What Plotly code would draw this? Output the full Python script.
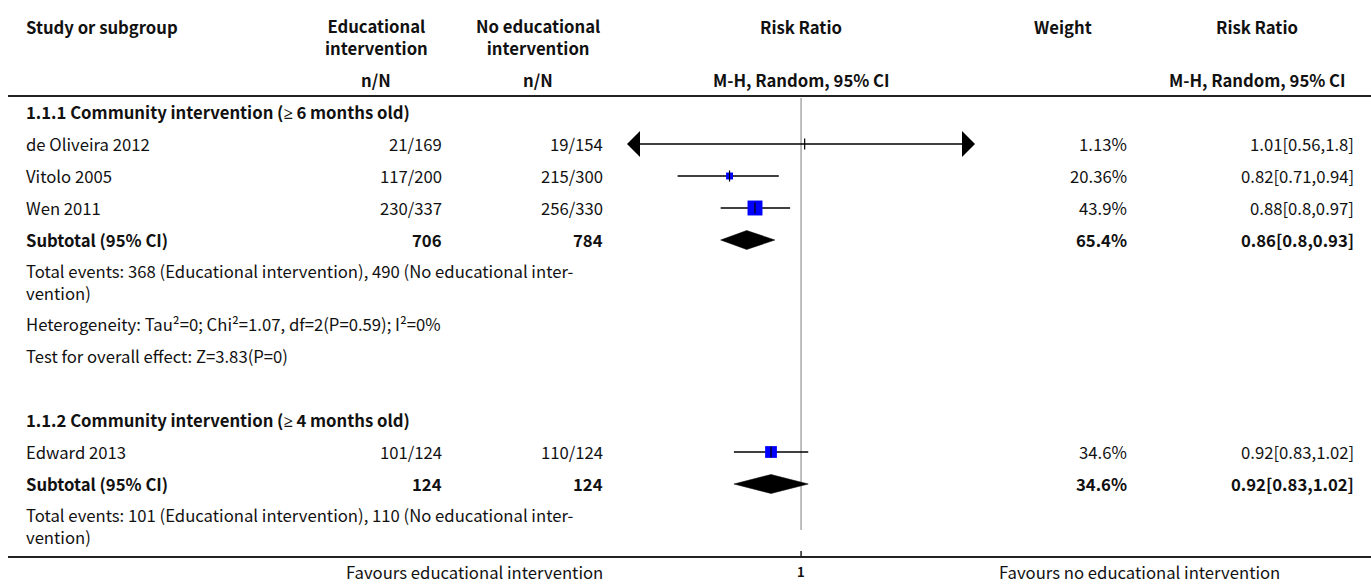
import math
import plotly.graph_objects as go

# ---- data -------------------------------------------------------------
studies = ["de Oliveira 2012", "Vitolo 2005", "Wen 2011", "Edward 2013"]
events_edu = [21, 117, 230, 101]
total_edu = [169, 200, 337, 124]
events_ctl = [19, 215, 256, 110]
total_ctl = [154, 300, 330, 124]
rr = [1.01, 0.82, 0.88, 0.92]
rr_lo = [0.56, 0.71, 0.80, 0.83]
rr_hi = [1.80, 0.94, 0.97, 1.02]
weights = [1.13, 20.36, 43.9, 34.6]

groups = ["1.1.1 Community intervention (≥ 6 months old)",
          "1.1.2 Community intervention (≥ 4 months old)"]
sub_n_edu = [706, 124]
sub_n_ctl = [784, 124]
sub_rr = [0.86, 0.92]
sub_lo = [0.80, 0.83]
sub_hi = [0.93, 1.02]
sub_weight = [65.4, 34.6]
sub_events_edu = [368, 101]
sub_events_ctl = [490, 110]
heterogeneity = ["Heterogeneity: Tau²=0; Chi²=1.07, df=2(P=0.59); I²=0%", None]
overall_effect = ["Test for overall effect: Z=3.83(P=0)", None]

axis_lo, axis_hi = 0.617, 1.62

# ---- layout constants (pixels) ----------------------------------------
W, H = 1371, 585
FONT = "Noto Sans CJK SC"
FS = 16.7
X_STUDY = 25
X_EDU_R, X_EDU_C = 443, 376
X_CTL_R, X_CTL_C = 604, 538
X_PLOT_L, X_PLOT_R = 627, 975
X_WT_R, X_WT_C = 1128, 1063
X_RR_R, X_RR_C = 1355, 1257
Y_HEAD_LINE = 96
Y_BOTTOM_LINE = 557

study_rows = [144, 176, 208, 452]
group_rows = [112, 420]
sub_rows = [240, 484]
events_rows = [272, 516]
het_rows = [324, None]
eff_rows = [356, None]

fig = go.Figure()
anns = []


def txt(x, y, s, anchor="left", bold=False, size=FS):
    # the CJK face draws a slanted ≥, so that glyph uses Noto Sans
    s = s.replace("≥", '<span style="font-family:Noto Sans">≥</span>')
    if bold:
        s = "<b>" + s.replace("<br>", "</b><br><b>") + "</b>"
    anns.append(dict(x=x, y=y, xref="x", yref="y", text=s, showarrow=False,
                     xanchor=anchor, yanchor="middle", align=anchor if anchor != "right" else "right",
                     borderpad=0, font=dict(family=FONT, size=size, color="#111")))


# header
txt(X_STUDY, 27, "Study or subgroup", bold=True)
txt(X_EDU_C, 37, "Educational<br>intervention", "center", True)
txt(X_EDU_C, 80, "n/N", "center", True)
txt(X_CTL_C, 37, "No educational<br>intervention", "center", True)
txt(X_CTL_C, 80, "n/N", "center", True)
txt(801, 27, "Risk Ratio", "center", True)
txt(801, 80, "M-H, Random, 95% CI", "center", True)
txt(X_WT_C, 27, "Weight", "center", True)
txt(X_RR_C, 27, "Risk Ratio", "center", True)
txt(X_RR_C, 80, "M-H, Random, 95% CI", "center", True)

# study rows
for i, s in enumerate(studies):
    y = study_rows[i]
    txt(X_STUDY, y, s)
    txt(X_EDU_R, y, f"{events_edu[i]}/{total_edu[i]}", "right")
    txt(X_CTL_R, y, f"{events_ctl[i]}/{total_ctl[i]}", "right")
    txt(X_WT_R, y, f"{weights[i]:g}%", "right")
    txt(X_RR_R, y, f"{rr[i]:g}[{rr_lo[i]:g},{rr_hi[i]:g}]", "right")

# subgroup headings, subtotals and statistics
for g, name in enumerate(groups):
    txt(X_STUDY, group_rows[g], name, bold=True)
    y = sub_rows[g]
    txt(X_STUDY, y, "Subtotal (95% CI)", bold=True)
    txt(X_EDU_R, y, str(sub_n_edu[g]), "right", True)
    txt(X_CTL_R, y, str(sub_n_ctl[g]), "right", True)
    txt(X_WT_R, y, f"{sub_weight[g]:g}%", "right", True)
    txt(X_RR_R, y, f"{sub_rr[g]:g}[{sub_lo[g]:g},{sub_hi[g]:g}]", "right", True)
    txt(X_STUDY, events_rows[g] + 10,
        f"Total events: {sub_events_edu[g]} (Educational intervention), "
        f"{sub_events_ctl[g]} (No educational inter-<br>vention)")
    if heterogeneity[g]:
        txt(X_STUDY, het_rows[g], heterogeneity[g])
    if overall_effect[g]:
        txt(X_STUDY, eff_rows[g], overall_effect[g])

# ---- forest plot on a log axis -----------------------------------------
px_per_dec = (X_PLOT_R - X_PLOT_L) / (math.log10(axis_hi) - math.log10(axis_lo))


def shift(v, px):
    """Move a value on the log axis by a number of pixels."""
    return v * 10 ** (px / px_per_dec)


ARROW = 13
for i in range(len(studies)):
    y = study_rows[i]
    lo = max(rr_lo[i], axis_lo)
    hi = min(rr_hi[i], axis_hi)
    x_lo = shift(lo, ARROW) if rr_lo[i] < axis_lo else lo
    x_hi = shift(hi, -ARROW) if rr_hi[i] > axis_hi else hi
    fig.add_trace(go.Scatter(x=[x_lo, x_hi], y=[y, y], xaxis="x2", yaxis="y", mode="lines",
                             line=dict(color="black", width=1.5), hoverinfo="skip"))
    if rr_lo[i] < axis_lo:
        b = shift(axis_lo, ARROW)
        fig.add_trace(go.Scatter(x=[axis_lo, b, b, axis_lo], y=[y, y - 13, y + 13, y],
                                 xaxis="x2", yaxis="y", mode="lines", fill="toself",
                                 fillcolor="black", line=dict(color="black", width=0),
                                 hoverinfo="skip"))
    if rr_hi[i] > axis_hi:
        b = shift(axis_hi, -ARROW)
        fig.add_trace(go.Scatter(x=[axis_hi, b, b, axis_hi], y=[y, y - 13, y + 13, y],
                                 xaxis="x2", yaxis="y", mode="lines", fill="toself",
                                 fillcolor="black", line=dict(color="black", width=0),
                                 hoverinfo="skip"))
    fig.add_trace(go.Scatter(x=[rr[i]], y=[y], xaxis="x2", yaxis="y", mode="markers",
                             marker=dict(symbol="square", size=weights[i] * 0.34, color="#0000ff",
                                         line=dict(width=0)), hoverinfo="skip"))
    fig.add_trace(go.Scatter(x=[rr[i]], y=[y], xaxis="x2", yaxis="y", mode="markers",
                             marker=dict(symbol="line-ns", size=8,
                                         line=dict(width=1.2, color="black")), hoverinfo="skip"))

for g in range(len(groups)):
    y = sub_rows[g]
    fig.add_trace(go.Scatter(x=[sub_lo[g], sub_rr[g], sub_hi[g], sub_rr[g], sub_lo[g]],
                             y=[y, y - 9.5, y, y + 9.5, y], xaxis="x2", yaxis="y",
                             mode="lines", fill="toself", fillcolor="black",
                             line=dict(color="black", width=0.5), hoverinfo="skip"))

shapes = [
    # line of no effect
    dict(type="line", xref="x2", yref="y", x0=1, x1=1, y0=Y_HEAD_LINE + 2, y1=530,
         line=dict(color="#a8a8a8", width=1.5), layer="below"),
    # table rules
    dict(type="line", xref="x", yref="y", x0=8, x1=W, y0=Y_HEAD_LINE, y1=Y_HEAD_LINE,
         line=dict(color="#222", width=2)),
    dict(type="line", xref="x", yref="y", x0=8, x1=W, y0=Y_BOTTOM_LINE, y1=Y_BOTTOM_LINE,
         line=dict(color="#222", width=2)),
    # tick at 1
    dict(type="line", xref="x2", yref="y", x0=1, x1=1, y0=Y_BOTTOM_LINE - 6, y1=Y_BOTTOM_LINE,
         line=dict(color="#222", width=1.5)),
]
anns.append(dict(x=0, y=571, xref="x2", yref="y", text="<b>1</b>", showarrow=False,
                 xanchor="center", yanchor="middle", font=dict(family=FONT, size=13, color="#111")))
txt(604, 572, "Favours educational intervention", "right")
txt(998, 572, "Favours no educational intervention", "left")

fig.update_layout(
    width=W, height=H, margin=dict(l=0, r=0, t=0, b=0),
    paper_bgcolor="white", plot_bgcolor="white", showlegend=False,
    annotations=anns, shapes=shapes,
    xaxis=dict(range=[0, W], domain=[0, 1], visible=False, fixedrange=True),
    xaxis2=dict(type="log", range=[math.log10(axis_lo), math.log10(axis_hi)],
                domain=[X_PLOT_L / W, X_PLOT_R / W], anchor="y",
                visible=False, fixedrange=True),
    yaxis=dict(range=[H, 0], domain=[0, 1], visible=False, fixedrange=True),
)
fig.write_html("out.html")
